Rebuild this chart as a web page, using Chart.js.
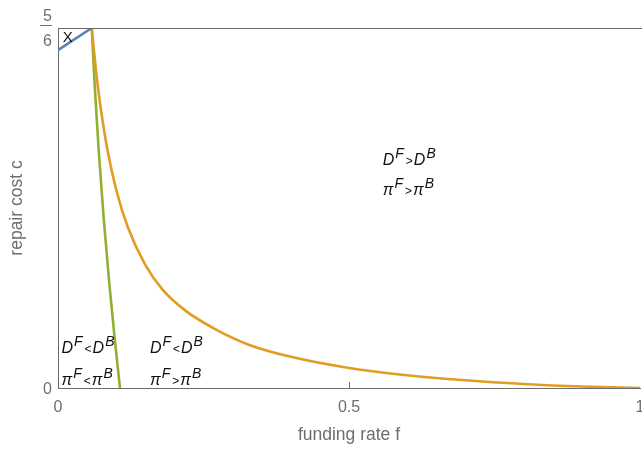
<!DOCTYPE html>
<html>
<head>
<meta charset="utf-8">
<script src="https://cdn.jsdelivr.net/npm/chart.js@4.4.1/dist/chart.umd.min.js"></script>
<style>
  html, body { margin: 0; padding: 0; background: #fff; }
  #wrap { width: 642px; height: 449px; }
</style>
</head>
<body>
<div id="wrap"><canvas id="chart" width="642" height="449"></canvas></div>
<script>
// boundary curves, as [funding rate f, repair cost c]
const bluePts = [[0, 0.782], [0.058, 0.8333]];
const greenPts = [[0.058, 0.8333], [0.0631, 0.70], [0.0699, 0.55], [0.0781, 0.40], [0.0876, 0.25], [0.097, 0.12], [0.1065, 0]];
const orangePts = [
  [0.058, 0.8333], [0.065, 0.738], [0.07, 0.682], [0.075, 0.633], [0.085, 0.551],
  [0.1, 0.459], [0.12, 0.372], [0.15, 0.285], [0.18, 0.227], [0.22, 0.178],
  [0.27, 0.1365], [0.33, 0.0991], [0.4, 0.0723], [0.5, 0.0465], [0.6, 0.0295],
  [0.7, 0.0178], [0.8, 0.0093], [0.9, 0.0034], [1, 0]
];

const xTicks = [0, 0.5, 1];
const yTicks = [0, 5 / 6];

// region labels: [f, c (baseline), pieces]
const regionLabels = [
  [0.006, 0.081, [['D', 'm'], ['F', 's'], ['<', 'r'], ['D', 'm'], ['B', 's']]],
  [0.006, 0.007, [['π', 'm'], ['F', 's'], ['<', 'r'], ['π', 'm'], ['B', 's']]],
  [0.158, 0.081, [['D', 'm'], ['F', 's'], ['<', 'r'], ['D', 'm'], ['B', 's']]],
  [0.158, 0.007, [['π', 'm'], ['F', 's'], ['>', 'r'], ['π', 'm'], ['B', 's']]],
  [0.558, 0.516, [['D', 'm'], ['F', 's'], ['>', 'r'], ['D', 'm'], ['B', 's']]],
  [0.558, 0.447, [['π', 'm'], ['F', 's'], ['>', 'r'], ['π', 'm'], ['B', 's']]]
];
const cornerLabel = [0.008, 0.801, 'X'];

const toXY = pts => pts.map(p => ({ x: p[0], y: p[1] }));
const axisGray = '#6b6b6b';
const textGray = '#6e6e6e';
const fam = '"Liberation Sans", Arial, sans-serif';

const extras = {
  id: 'extras',
  afterDatasetsDraw(chart) {
    const ctx = chart.ctx;
    const xs = chart.scales.x, ys = chart.scales.y;
    const area = chart.chartArea;
    ctx.save();
    // top frame line
    ctx.strokeStyle = axisGray;
    ctx.lineWidth = 1;
    ctx.beginPath();
    ctx.moveTo(area.left, area.top + 0.5);
    ctx.lineTo(chart.width, area.top + 0.5);
    ctx.stroke();
    // inward tick marks
    xTicks.slice(1, -1).forEach(v => {
      const px = Math.round(xs.getPixelForValue(v)) + 0.5;
      ctx.beginPath();
      ctx.moveTo(px, area.bottom);
      ctx.lineTo(px, area.bottom - 6);
      ctx.stroke();
    });
    // fraction bar of 5/6
    const fy = Math.round(ys.getPixelForValue(5 / 6)) - 2.5;
    ctx.strokeStyle = textGray;
    ctx.beginPath();
    ctx.moveTo(40, fy);
    ctx.lineTo(52, fy);
    ctx.stroke();

    ctx.fillStyle = '#111';
    ctx.textBaseline = 'alphabetic';
    ctx.textAlign = 'left';
    regionLabels.forEach(([f, c, pieces]) => {
      let x = xs.getPixelForValue(f);
      const y = ys.getPixelForValue(c);
      pieces.forEach(([t, kind]) => {
        if (kind === 'm') {
          ctx.font = 'italic 16px ' + fam;
          ctx.fillText(t, x, y);
          x += ctx.measureText(t).width;
        } else if (kind === 's') {
          ctx.font = 'italic 14px ' + fam;
          ctx.fillText(t, x + 1, y - 7);
          x += ctx.measureText(t).width + 3;
        } else {
          ctx.font = '12px ' + fam;
          ctx.fillText(t, x, y);
          x += ctx.measureText(t).width + 1;
        }
      });
    });
    ctx.font = '15px ' + fam;
    ctx.fillText(cornerLabel[2], xs.getPixelForValue(cornerLabel[0]), ys.getPixelForValue(cornerLabel[1]));
    ctx.restore();
  }
};

const lineStyle = (color) => ({
  borderColor: color,
  borderWidth: 2.6,
  pointRadius: 0,
  cubicInterpolationMode: 'monotone',
  fill: false
});

new Chart(document.getElementById('chart'), {
  type: 'line',
  data: {
    datasets: [
      Object.assign({ label: 'blue', data: toXY(bluePts) }, lineStyle('#5e81b5')),
      Object.assign({ label: 'orange', data: toXY(orangePts) }, lineStyle('#e19c24')),
      Object.assign({ label: 'green', data: toXY(greenPts) }, lineStyle('#8fb032'))
    ]
  },
  options: {
    responsive: false,
    animation: false,
    devicePixelRatio: 1,
    layout: { padding: { top: 28, right: 2, left: 0, bottom: 0 } },
    plugins: { legend: { display: false }, tooltip: { enabled: false } },
    scales: {
      x: {
        type: 'linear',
        min: 0, max: 1,
        afterBuildTicks: s => { s.ticks = xTicks.map(v => ({ value: v })); },
        afterFit: s => { s.height = 61; s.paddingLeft = 0; s.paddingRight = 0; },
        grid: { display: false, drawTicks: false },
        border: { display: true, color: axisGray, width: 1 },
        ticks: {
          color: textGray, padding: 10, maxRotation: 0,
          font: { size: 16, family: fam },
          callback: v => (v === 0 ? '0' : v === 1 ? '1' : String(v))
        },
        title: {
          display: true, text: 'funding rate f', color: textGray,
          font: { size: 17.5, family: fam },
          padding: { top: 0, bottom: 3 }
        }
      },
      y: {
        type: 'linear',
        min: 0, max: 5 / 6,
        afterBuildTicks: s => { s.ticks = yTicks.map(v => ({ value: v })); },
        afterFit: s => { s.width = 58; s.paddingTop = 0; s.paddingBottom = 0; },
        grid: { display: false, drawTicks: false },
        border: { display: true, color: axisGray, width: 1 },
        ticks: {
          color: textGray, padding: 6, labelOffset: 1.5,
          font: { size: 16, family: fam, lineHeight: 1.56 },
          callback: v => (v === 0 ? '0' : ['5', '6'])
        },
        title: {
          display: true, text: 'repair cost c', color: textGray,
          font: { size: 17.5, family: fam },
          padding: { top: 7, bottom: 0 }
        }
      }
    }
  },
  plugins: [extras]
});
</script>
</body>
</html>
